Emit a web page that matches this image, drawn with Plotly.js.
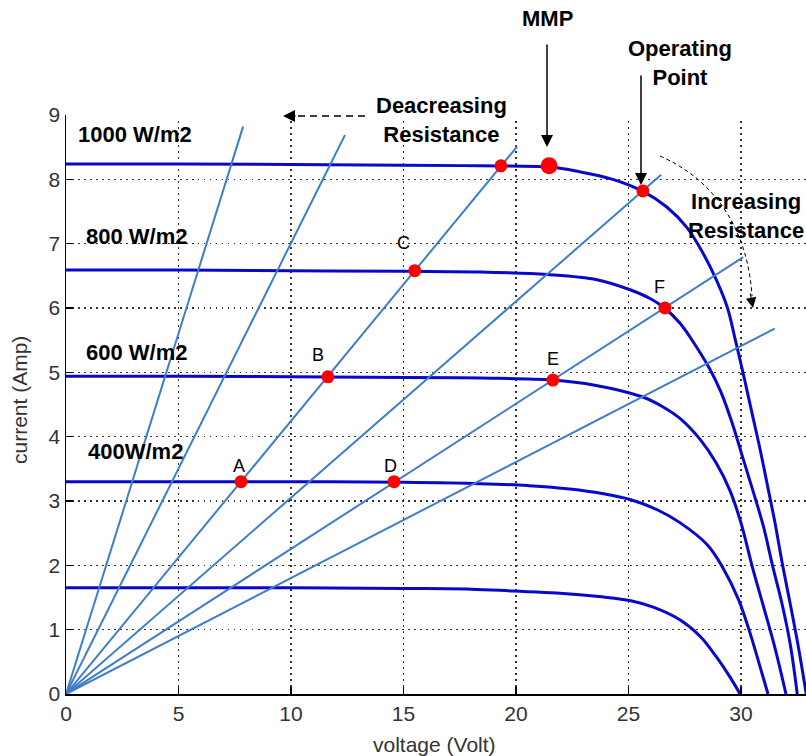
<!DOCTYPE html>
<html>
<head>
<meta charset="utf-8">
<script src="https://cdn.plot.ly/plotly-3.0.1.min.js"></script>
<style>
html,body{margin:0;padding:0;background:#fff;overflow:hidden;}
#chart{width:806px;height:756px;}
</style>
</head>
<body>
<div id="chart"></div>
<script>
// ---- I-V curves (voltage in V, current in A) ----
const irradianceLabels = ['1000 W/m2', '800 W/m2', '600 W/m2', '400W/m2'];

const v1000 = [0, 5, 10, 15, 18.4, 21.5, 22.8, 24.3, 25.6, 26.7, 27.6, 28.3, 28.9, 29.4, 29.75, 30.15, 30.5, 30.85, 31.2, 31.5, 31.85, 32.2, 32.55, 32.9];
const i1000 = [8.24, 8.24, 8.23, 8.22, 8.21, 8.19, 8.12, 8.0, 7.82, 7.57, 7.25, 6.86, 6.44, 6.0, 5.5, 4.9, 4.35, 3.8, 3.2, 2.68, 2.0, 1.38, 0.73, 0];

const v800 = [0, 5, 10, 15, 18.4, 21.4, 23.6, 25.1, 26.0, 26.6, 27.3, 27.9, 28.6, 29.1, 29.6, 30.1, 30.6, 31.0, 31.4, 31.85, 32.2, 32.5];
const i800 = [6.59, 6.59, 6.58, 6.57, 6.56, 6.52, 6.44, 6.28, 6.14, 6.0, 5.76, 5.46, 5.06, 4.70, 4.22, 3.65, 3.08, 2.6, 2.0, 1.36, 0.75, 0];

const v600 = [0, 5, 10, 15, 18.4, 21.6, 23.5, 25.6, 26.5, 27.3, 28.2, 28.9, 29.5, 30.0, 30.5, 31.0, 31.5, 32.0];
const i600 = [4.94, 4.94, 4.93, 4.92, 4.91, 4.88, 4.80, 4.62, 4.47, 4.28, 3.95, 3.59, 3.17, 2.66, 1.98, 1.36, 0.73, 0];

const v400 = [0, 5, 10, 15, 18.4, 20.5, 22.8, 25.1, 26.3, 27.3, 28.5, 29.2, 29.9, 30.4, 30.8, 31.2];
const i400 = [3.30, 3.30, 3.30, 3.29, 3.27, 3.24, 3.17, 3.02, 2.86, 2.66, 2.32, 1.96, 1.46, 0.95, 0.48, 0];

const v200 = [0, 5, 10, 15, 18, 19.9, 21.8, 23.8, 25.1, 26.1, 27.3, 28.2, 28.9, 29.5, 29.96];
const i200 = [1.65, 1.65, 1.65, 1.64, 1.63, 1.60, 1.57, 1.51, 1.45, 1.35, 1.15, 0.89, 0.58, 0.27, 0];

// ---- load (resistance) lines from the origin: end points ----
const loadEndV = [7.87, 12.4, 20.05, 26.45, 30.1, 31.5];
const loadEndI = [8.82, 8.69, 8.51, 8.07, 6.79, 5.68];

// ---- labelled intersection points ----
const ptLabels = ['A', 'B', 'C', 'D', 'E', 'F'];
const ptV = [7.78, 11.64, 15.5, 14.58, 21.64, 26.62];
const ptI = [3.30, 4.93, 6.58, 3.30, 4.88, 6.0];

// ---- other marked points ----
const extraV = [19.33, 25.64];
const extraI = [8.21, 7.82];
const mmpV = [21.47];
const mmpI = [8.21];

// ---- axis ticks ----
const xTicks = [0, 5, 10, 15, 20, 25, 30];
const yTicks = [0, 1, 2, 3, 4, 5, 6, 7, 8, 9];

// pixel -> coordinate helpers (layout only)
const L = 66, B = 694, PXV = 22.5, PXI = 64.3, W = 740, H = 579;
const X = px => (px - L) / PXV;
const Y = py => (B - py) / PXI;
const PX = px => (px - L) / W;
const PY = py => (B - py) / H;

const curveColor = '#0808cc';
const loadColor = '#3f7dcb';
const traces = [];
[[v1000, i1000], [v800, i800], [v600, i600], [v400, i400], [v200, i200]].forEach(c => {
  traces.push({x: c[0], y: c[1], mode: 'lines', type: 'scatter',
    line: {color: curveColor, width: 3, shape: 'spline', smoothing: 1},
    hoverinfo: 'skip', showlegend: false});
});
loadEndV.forEach((v, k) => {
  traces.push({x: [0, v], y: [0, loadEndI[k]], mode: 'lines', type: 'scatter',
    line: {color: loadColor, width: 2}, hoverinfo: 'skip', showlegend: false});
});
traces.push({x: ptV.concat(extraV), y: ptI.concat(extraI), mode: 'markers', type: 'scatter',
  marker: {color: '#ff0000', size: 13}, showlegend: false, cliponaxis: false});
traces.push({x: mmpV, y: mmpI, mode: 'markers', type: 'scatter',
  marker: {color: '#ff0000', size: 17}, showlegend: false, cliponaxis: false});

const FAM = 'Liberation Sans, Arial, sans-serif';
const boldFont = {family: FAM, size: 22, color: '#000'};
const ann = [];
// irradiance labels
const irrPos = [[134.5, 135], [136.5, 237], [136.5, 353], [135, 452]];
irradianceLabels.forEach((t, k) => {
  ann.push({x: X(irrPos[k][0]), y: Y(irrPos[k][1]), xref: 'x', yref: 'y', text: '<b>' + t + '</b>',
    showarrow: false, font: boldFont, xanchor: 'center', yanchor: 'middle'});
});
// point letters
const letterShift = [[-2, 16], [-10, 22], [-11, 28], [-4, 16], [0, 21], [-5, 21]];
ptLabels.forEach((t, k) => {
  ann.push({x: ptV[k], y: ptI[k], xref: 'x', yref: 'y', text: t, showarrow: false,
    xshift: letterShift[k][0], yshift: letterShift[k][1],
    font: {family: FAM, size: 18, color: '#000'},
    xanchor: 'center', yanchor: 'middle'});
});
// big texts
const big = (px, py, t) => ({x: PX(px), y: PY(py), xref: 'paper', yref: 'paper', text: '<b>' + t + '</b>',
  showarrow: false, font: boldFont, xanchor: 'center', yanchor: 'middle'});
ann.push(big(547, 18, 'MMP'));
ann.push(big(680, 63, 'Operating<br>Point'));
ann.push(big(441, 120, 'Deacreasing<br>Resistance'));
ann.push(big(746, 216, 'Increasing<br>Resistance'));
// arrows
const arrowStyle = {showarrow: true, arrowhead: 2, arrowsize: 1.6, arrowwidth: 1.5, arrowcolor: '#000', text: '', xanchor: 'center', yanchor: 'middle'};
ann.push(Object.assign({x: PX(547), y: PY(147), xref: 'paper', yref: 'paper', ax: 0, ay: -104}, arrowStyle));
ann.push(Object.assign({x: PX(641), y: PY(185), xref: 'paper', yref: 'paper', ax: 0, ay: -111}, arrowStyle));
ann.push(Object.assign({x: PX(283), y: PY(116), xref: 'paper', yref: 'paper', ax: 14, ay: 0}, arrowStyle));
ann.push(Object.assign({}, arrowStyle, {x: PX(753), y: PY(308), xref: 'paper', yref: 'paper', ax: -3, ay: -16, arrowwidth: 1.1, arrowsize: 1.9}));
// axis titles
const axFont = {family: FAM, size: 21, color: '#333'};
ann.push({x: PX(434), y: PY(744), xref: 'paper', yref: 'paper', text: 'voltage (Volt)', showarrow: false, font: axFont, xanchor: 'center', yanchor: 'middle'});
ann.push({x: PX(19), y: PY(400), xref: 'paper', yref: 'paper', text: 'current (Amp)', showarrow: false, font: axFont, textangle: -90, xanchor: 'center', yanchor: 'middle'});

const shapes = [
  // hide the grid line along the top edge (the original has no top border)
  {type: 'line', xref: 'paper', yref: 'paper', x0: PX(L + 9), y0: 1, x1: 1, y1: 1,
    line: {color: '#fff', width: 4}, layer: 'above'},
  {type: 'line', xref: 'paper', yref: 'paper', x0: PX(365), y0: PY(116), x1: PX(292), y1: PY(116),
    line: {color: '#000', width: 1.5, dash: '7px,5px'}},
  {type: 'path', xref: 'paper', yref: 'paper',
    path: 'M ' + PX(660) + ' ' + PY(156) + ' C ' + PX(715) + ' ' + PY(180) + ' ' + PX(748) + ' ' + PY(230) + ' ' + PX(752) + ' ' + PY(296),
    line: {color: '#000', width: 1, dash: '4px,3px'}}
];

const axisCommon = {
  showline: true, linecolor: '#000', linewidth: 1.5,
  ticks: 'inside', ticklen: 7, tickcolor: '#000', tickwidth: 1.5,
  showgrid: true, gridcolor: '#333', gridwidth: 1.5, griddash: '1.5px,4.5px',
  zeroline: false,
  tickfont: {family: FAM, size: 21, color: '#333'}
};

const layout = {
  width: 806, height: 756,
  margin: {l: L, r: 806 - L - W, t: B - H, b: 756 - B, pad: 0},
  paper_bgcolor: '#fff', plot_bgcolor: '#fff',
  showlegend: false,
  xaxis: Object.assign({}, axisCommon, {range: [0, W / PXV], tickvals: xTicks, ticktext: xTicks.map(String)}),
  yaxis: Object.assign({}, axisCommon, {range: [0, 9], tickvals: yTicks, ticktext: yTicks.map(String)}),
  annotations: ann,
  shapes: shapes
};

Plotly.newPlot('chart', traces, layout, {staticPlot: true, displayModeBar: false});
</script>
</body>
</html>
